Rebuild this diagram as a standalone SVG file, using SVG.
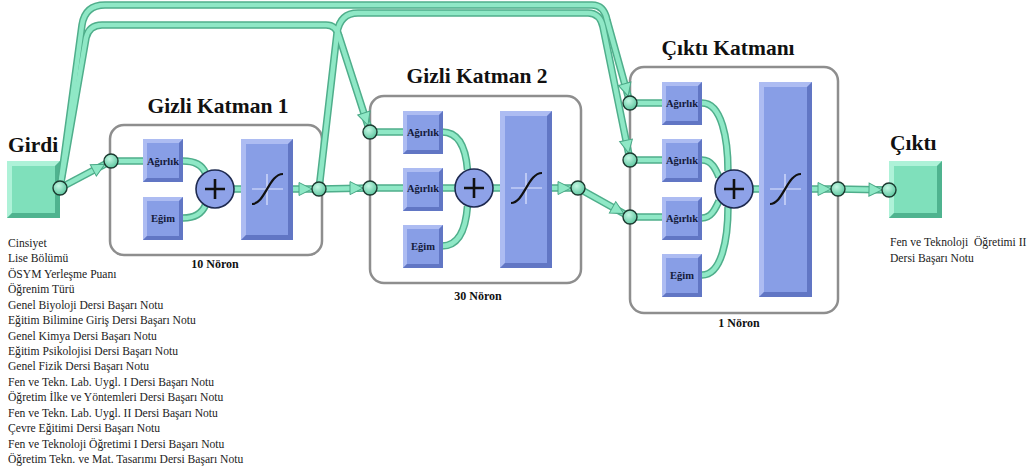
<svg xmlns="http://www.w3.org/2000/svg" xmlns:xlink="http://www.w3.org/1999/xlink" width="1035" height="467" viewBox="0 0 1035 467">
<style>
.co{fill:none;stroke:#4fae8b;stroke-width:7.5;stroke-linejoin:round;stroke-linecap:butt}
.ci{fill:none;stroke:#8fe8c6;stroke-width:4.5;stroke-linejoin:round;stroke-linecap:butt}
.layer{fill:#ffffff;stroke:#8e8e8e;stroke-width:2.5}
.title{font-family:"Liberation Serif",serif;font-weight:bold;font-size:21.5px;fill:#111}
.cnt{font-family:"Liberation Serif",serif;font-weight:bold;font-size:12px;fill:#111;text-anchor:middle}
.bt{font-family:"Liberation Serif",serif;font-weight:bold;font-size:10.5px;fill:#141a3a;text-anchor:middle}
.lst{font-family:"Liberation Serif",serif;font-size:11.6px;fill:#222;white-space:pre}
.port{fill:url(#pg);stroke:#1c3a30;stroke-width:1.4}
.plus{fill:#8ea2e8;stroke:#1e2a50;stroke-width:1.6}
.pl{stroke:#111;stroke-width:2.6}
.xh{stroke:#dfe6ff;stroke-width:1.2}
.sig{fill:none;stroke:#111;stroke-width:2.2}
.face{fill:#889ee6}
.lt{fill:#adbcf2}
.dk{fill:#6176c4}
.arr{fill:#8fe8c6;stroke:#4aa886;stroke-width:1}
</style>
<defs>
<radialGradient id="pg" cx="0.4" cy="0.35" r="0.7">
<stop offset="0" stop-color="#c4f7e3"/>
<stop offset="1" stop-color="#58c49c"/>
</radialGradient>
<g id="sb">
<rect width="40" height="43" class="face"/>
<polygon points="0,0 40,0 36,4 4,4 4,39 0,43" class="lt"/>
<polygon points="40,0 40,43 0,43 4,39 36,39 36,4" class="dk"/>
</g>
<g id="mint">
<rect width="53" height="57" fill="#7fe0bb"/>
<polygon points="0,0 53,0 48,5 5,5 5,52 0,57" fill="#aef2d8"/>
<polygon points="53,0 53,57 0,57 5,52 48,52 48,5" fill="#4fb38f"/>
</g>
<polygon id="ah" points="0,0 -13,-6.5 -13,6.5" class="arr"/>
<path id="e1" d="M60,188 L111,161"/>
<path id="e2" d="M319,189 L370,188"/>
<path id="e3" d="M578,188 L630,217"/>
<path id="e4" d="M60,188 L86,38 Q89,25 102,25 H326 Q336,25 339,36 L370,132"/>
<path id="e5" d="M60,188 L82,25 Q85,5 105,5 H592 Q604,5 607,20 L630,103"/>
<path id="e6" d="M319,189 L337,33 Q340,13 358,13 H588 Q600,13 603,27 L630,160"/>
<path id="e7" d="M838,189 L889,190"/>
<path id="g1i" d="M111,161 H150 M183,161 C198,161 203,167 205.5,173 M183,218 C198,218 203,211 205.5,205 M234,189 H241 M293,189 H319"/>
<path id="g2i" d="M370,132 H410 M370,188 H410 M442,132 C460,132 466,150 467.5,170 M442,188 H455 M442,246 C460,246 466,226 467.5,206 M493,188 H500 M552,188 H578"/>
<path id="g3i" d="M630,103 H670 M630,160 H670 M630,217 H670 M702,103 C722,103 728,140 728,171 M702,160 C712,160 716,170 719,177 M702,218 C712,218 716,207 719,201 M702,275 C722,275 728,238 728,207 M753,189 H759 M812,189 H838"/>
</defs>

<g id="input">
<text class="title" x="8" y="152">Girdi</text>
<use href="#mint" x="7" y="161"/>
<text class="lst" x="8" y="247">Cinsiyet</text>
<text class="lst" x="8" y="262.4">Lise Bölümü</text>
<text class="lst" x="8" y="277.9">ÖSYM Yerleşme Puanı</text>
<text class="lst" x="8" y="293.3">Öğrenim Türü</text>
<text class="lst" x="8" y="308.7">Genel Biyoloji Dersi Başarı Notu</text>
<text class="lst" x="8" y="324.1">Eğitim Bilimine Giriş Dersi Başarı Notu</text>
<text class="lst" x="8" y="339.6">Genel Kimya Dersi Başarı Notu</text>
<text class="lst" x="8" y="355">Eğitim Psikolojisi Dersi Başarı Notu</text>
<text class="lst" x="8" y="370.4">Genel Fizik Dersi Başarı Notu</text>
<text class="lst" x="8" y="385.9">Fen ve Tekn. Lab. Uygl. I Dersi Başarı Notu</text>
<text class="lst" x="8" y="401.3">Öğretim İlke ve Yöntemleri Dersi Başarı Notu</text>
<text class="lst" x="8" y="416.7">Fen ve Tekn. Lab. Uygl. II Dersi Başarı Notu</text>
<text class="lst" x="8" y="432.1">Çevre Eğitimi Dersi Başarı Notu</text>
<text class="lst" x="8" y="447.6">Fen ve Teknoloji Öğretimi I Dersi Başarı Notu</text>
<text class="lst" x="8" y="463">Öğretim Tekn. ve Mat. Tasarımı Dersi Başarı Notu</text>
</g>

<g id="hidden1">
<text class="title" x="218" y="113" text-anchor="middle">Gizli Katman 1</text>
<rect class="layer" x="110" y="125" width="212" height="130" rx="14"/>
<use href="#g1i" class="co"/><use href="#g1i" class="ci"/>
<use href="#sb" x="143" y="139"/><text class="bt" x="163" y="164.5">Ağırlık</text>
<use href="#sb" x="143" y="197"/><text class="bt" x="163" y="222">Eğim</text>
<circle class="plus" cx="215" cy="189" r="19"/>
<path class="pl" d="M205,189 H225 M215,179 V199"/>
<rect class="face" x="241" y="139" width="52" height="101"/>
<polygon class="lt" points="241,139 293,139 288,144 246,144 246,235 241,240"/>
<polygon class="dk" points="293,139 293,240 241,240 246,235 288,235 288,144"/>
<path class="xh" d="M252,189 H283 M267,174 V205"/>
<path class="sig" d="M252,204 C265,204 269,174 283,174"/>
<use href="#ah" transform="translate(312,189)"/>
<text class="cnt" x="215" y="268">10 Nöron</text>
</g>

<g id="hidden2">
<text class="title" x="477" y="83" text-anchor="middle">Gizli Katman 2</text>
<rect class="layer" x="370" y="96" width="211" height="187" rx="14"/>
<use href="#g2i" class="co"/><use href="#g2i" class="ci"/>
<use href="#sb" x="403" y="111"/><text class="bt" x="423" y="136">Ağırlık</text>
<use href="#sb" x="403" y="168"/><text class="bt" x="423" y="192">Ağırlık</text>
<use href="#sb" x="403" y="225"/><text class="bt" x="423" y="250">Eğim</text>
<circle class="plus" cx="474" cy="188" r="19"/>
<path class="pl" d="M464,188 H484 M474,178 V198"/>
<rect class="face" x="500" y="111" width="52" height="157"/>
<polygon class="lt" points="500,111 552,111 547,116 505,116 505,263 500,268"/>
<polygon class="dk" points="552,111 552,268 500,268 505,263 547,263 547,116"/>
<path class="xh" d="M511,188 H542 M526,173 V204"/>
<path class="sig" d="M511,203 C524,203 528,173 542,173"/>
<use href="#ah" transform="translate(571,188)"/>
<text class="cnt" x="478" y="300">30 Nöron</text>
</g>

<g id="outputLayer">
<text class="title" x="728" y="55" text-anchor="middle">Çıktı Katmanı</text>
<rect class="layer" x="630" y="67" width="208" height="246" rx="14"/>
<use href="#g3i" class="co"/><use href="#g3i" class="ci"/>
<use href="#sb" x="662" y="82"/><text class="bt" x="682" y="107">Ağırlık</text>
<use href="#sb" x="662" y="139"/><text class="bt" x="682" y="164">Ağırlık</text>
<use href="#sb" x="662" y="197"/><text class="bt" x="682" y="222">Ağırlık</text>
<use href="#sb" x="662" y="254"/><text class="bt" x="682" y="279">Eğim</text>
<circle class="plus" cx="734" cy="189" r="19"/>
<path class="pl" d="M724,189 H744 M734,179 V199"/>
<rect class="face" x="759" y="82" width="53" height="215"/>
<polygon class="lt" points="759,82 812,82 807,87 764,87 764,292 759,297"/>
<polygon class="dk" points="812,82 812,297 759,297 764,292 807,292 807,87"/>
<path class="xh" d="M770,189 H801 M785,174 V205"/>
<path class="sig" d="M770,204 C783,204 787,174 801,174"/>
<use href="#ah" transform="translate(831,189)"/>
<text class="cnt" x="739" y="327">1 Nöron</text>
</g>

<g id="output">
<text class="title" x="890" y="150">Çıktı</text>
<use href="#mint" x="889" y="161"/>
<text class="lst" x="890" y="246">Fen ve Teknoloji  Öğretimi II</text>
<text class="lst" x="890" y="261.5">Dersi Başarı Notu</text>
</g>

<g id="connectors">
<use href="#e1" class="co"/><use href="#e2" class="co"/><use href="#e3" class="co"/>
<use href="#e4" class="co"/><use href="#e5" class="co"/><use href="#e6" class="co"/><use href="#e7" class="co"/>
<use href="#e1" class="ci"/><use href="#e2" class="ci"/><use href="#e3" class="ci"/>
<use href="#e4" class="ci"/><use href="#e5" class="ci"/><use href="#e6" class="ci"/><use href="#e7" class="ci"/>
<use href="#ah" transform="translate(104.8,164.3) rotate(-27.9)"/>
<use href="#ah" transform="translate(363,188.1)"/>
<use href="#ah" transform="translate(623.9,213.6) rotate(29.2)"/>
<use href="#ah" transform="translate(367.9,125.3) rotate(72.1)"/>
<use href="#ah" transform="translate(628.1,96.2) rotate(74.5)"/>
<use href="#ah" transform="translate(628.6,153.1) rotate(78.5)"/>
<use href="#ah" transform="translate(882,189.9) rotate(1.1)"/>
</g>

<g id="ports">
<circle class="port" cx="60" cy="188" r="7"/>
<circle class="port" cx="111" cy="161" r="7"/>
<circle class="port" cx="319" cy="189" r="7"/>
<circle class="port" cx="370" cy="132" r="7"/>
<circle class="port" cx="370" cy="188" r="7"/>
<circle class="port" cx="578" cy="188" r="7"/>
<circle class="port" cx="630" cy="103" r="7"/>
<circle class="port" cx="630" cy="160" r="7"/>
<circle class="port" cx="630" cy="217" r="7"/>
<circle class="port" cx="838" cy="189" r="7"/>
<circle class="port" cx="889" cy="190" r="7"/>
</g>
</svg>
